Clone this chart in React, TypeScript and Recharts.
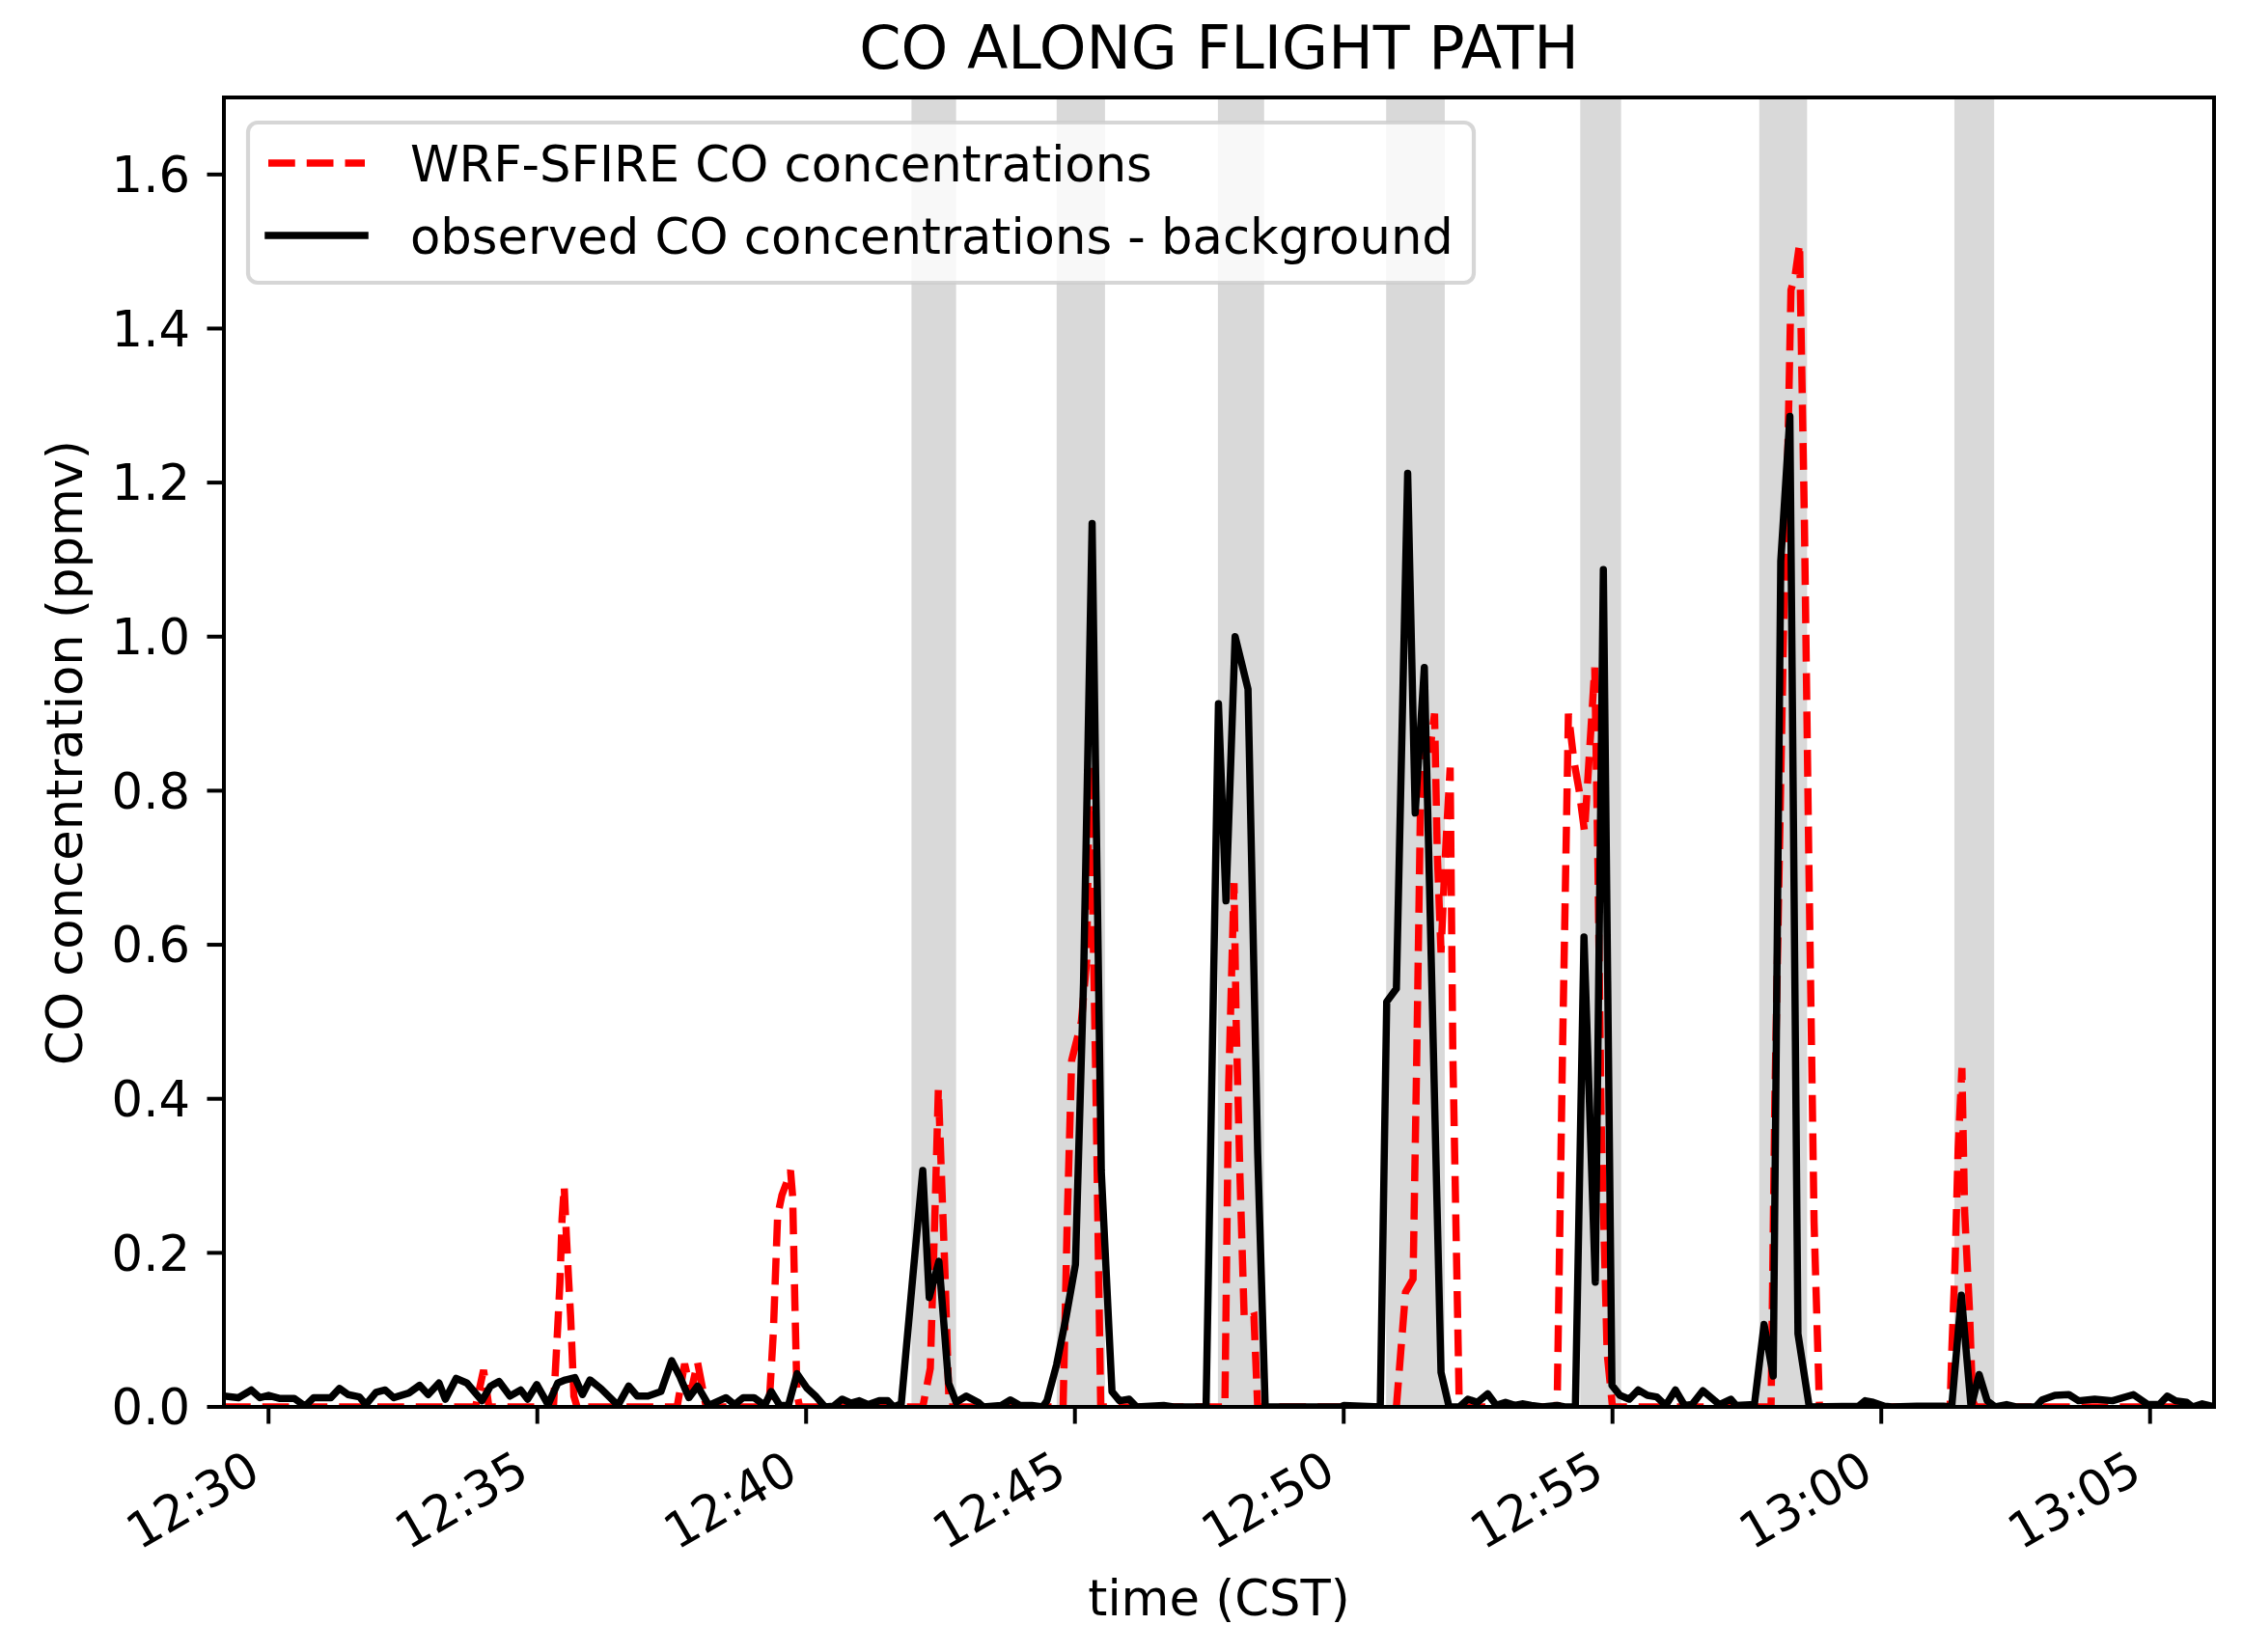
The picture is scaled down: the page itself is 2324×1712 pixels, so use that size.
import React from 'react';
import { LineChart, Line, XAxis, YAxis, ReferenceArea } from 'recharts';

const FONT = '"DejaVu Sans", sans-serif';
const FS = 51.2;

// time axis is in minutes after 12:00 CST
const obsTime = [
  29.17, 29.44, 29.68, 29.84, 30.0, 30.2, 30.48, 30.68, 30.84, 31.16, 31.32, 31.48, 31.69, 31.81,
  32.0, 32.17, 32.33, 32.61, 32.81, 32.97, 33.17, 33.29, 33.49, 33.69, 33.97, 34.13, 34.29, 34.49,
  34.69, 34.82, 34.99, 35.2, 35.38, 35.52, 35.7, 35.84, 35.98, 36.18, 36.5, 36.7, 36.86, 37.06,
  37.3, 37.5, 37.66, 37.82, 37.98, 38.19, 38.51, 38.67, 38.83, 39.03, 39.23, 39.35, 39.51, 39.67,
  39.83, 40.02, 40.19, 40.35, 40.51, 40.67, 40.83, 40.99, 41.16, 41.36, 41.52, 41.63, 41.77,
  41.99, 42.17, 42.29, 42.47, 42.65, 42.79, 42.98, 43.2, 43.3, 43.63, 43.8, 43.98, 44.2, 44.4,
  44.48, 44.66, 44.84, 45.01, 45.16, 45.32, 45.49, 45.69, 45.83, 46.01, 46.15, 46.65, 46.83,
  47.44, 47.67, 47.81, 47.98, 48.22, 48.4, 48.54, 49.95, 50.0, 50.68, 50.8, 50.98, 51.19, 51.33,
  51.5, 51.81, 51.96, 52.15, 52.31, 52.49, 52.68, 52.84, 53.01, 53.18, 53.32, 53.49, 53.7, 53.97,
  54.11, 54.31, 54.47, 54.68, 54.83, 54.99, 55.14, 55.31, 55.48, 55.65, 55.82, 55.99, 56.17,
  56.34, 56.48, 56.68, 56.99, 57.2, 57.3, 57.64, 57.82, 57.99, 58.13, 58.3, 58.45, 58.66, 59.58,
  59.7, 59.85, 60.06, 60.2, 60.66, 61.16, 61.31, 61.49, 61.67, 61.82, 61.97, 62.12, 62.33, 62.5,
  62.87, 62.99, 63.23, 63.49, 63.67, 63.97, 64.3, 64.69, 64.96, 65.17, 65.32, 65.47, 65.68,
  65.79, 65.97, 66.19,
];
const obsCO = [
  0.014, 0.012, 0.022, 0.012, 0.015, 0.011, 0.011, 0.001, 0.012, 0.012, 0.024, 0.016, 0.013, 0.003,
  0.019, 0.022, 0.012, 0.018, 0.028, 0.016, 0.031, 0.01, 0.037, 0.031, 0.008, 0.027, 0.033, 0.014,
  0.022, 0.01, 0.029, 0.003, 0.031, 0.035, 0.038, 0.016, 0.035, 0.024, 0.002, 0.027, 0.014, 0.014,
  0.02, 0.06, 0.038, 0.012, 0.027, 0.002, 0.012, 0.003, 0.012, 0.012, 0.002, 0.02, 0.002, 0.002,
  0.043, 0.024, 0.013, 0.0, 0.001, 0.01, 0.005, 0.008, 0.003, 0.008, 0.008, 0.0, 0.004,
  0.173, 0.307, 0.142, 0.189, 0.031, 0.006, 0.014, 0.006, 0.0, 0.002, 0.009, 0.002, 0.002, 0.0,
  0.008, 0.055, 0.118, 0.185, 0.55, 1.147, 0.307, 0.02, 0.008, 0.01, 0.0, 0.002, 0.0,
  0.0, 0.913, 0.657, 1.0, 0.932, 0.33, 0.0, 0.0, 0.002, 0.0, 0.526, 0.543, 1.212, 0.771,
  0.96, 0.045, 0.0, 0.0, 0.01, 0.006, 0.017, 0.002, 0.006, 0.002, 0.004, 0.002, 0.0, 0.002,
  0.0, 0.0, 0.61, 0.162, 1.087, 0.028, 0.015, 0.01, 0.022, 0.015, 0.013, 0.002, 0.022,
  0.002, 0.003, 0.021, 0.003, 0.01, 0.002, 0.003, 0.107, 0.04, 1.098, 1.286, 0.095, 0.0, 0.001,
  0.008, 0.006, 0.001, 0.0, 0.001, 0.001, 0.0, 0.145, 0.0, 0.042, 0.008, 0.0, 0.003, 0.0,
  0.0, 0.009, 0.015, 0.016, 0.008, 0.01, 0.008, 0.016, 0.003, 0.003, 0.014, 0.008, 0.006,
  0.0, 0.004, 0.0,
];

const wrfTime = [
  29.17, 33.85, 34.0, 34.1, 35.3, 35.38, 35.42, 35.46, 35.5, 35.54, 35.58, 35.62, 35.68, 35.74,
  37.6, 37.74, 37.86, 37.98, 38.14, 39.31, 39.39, 39.47, 39.55, 39.63, 39.71, 39.75, 39.79, 39.83,
  39.88, 42.17, 42.31, 42.4, 42.46, 42.58, 42.66, 44.78, 44.86, 44.94, 45.12, 45.22, 45.27, 45.33,
  45.39, 45.44, 45.48, 47.79, 47.86, 47.96, 48.0, 48.07, 48.15, 48.33, 48.4, 50.98, 51.15, 51.29,
  51.36, 51.43, 51.53, 51.6, 51.69, 51.74, 51.81, 51.88, 51.92, 51.98, 52.03, 52.15, 53.97, 54.07,
  54.18, 54.28, 54.38, 54.48, 54.55, 54.67, 54.73, 54.79, 54.9, 55.0, 57.95, 58.02, 58.1, 58.18,
  58.25, 58.32, 58.4, 58.48, 58.57, 58.65, 58.75, 58.85, 61.28, 61.31, 61.37, 61.43, 61.5, 61.55,
  61.64, 61.7, 61.75, 66.19,
];
const wrfCO = [
  0.0, 0.0, 0.048, 0.0, 0.0, 0.105, 0.16, 0.244, 0.286, 0.223, 0.168, 0.117, 0.014, 0.0,
  0.0, 0.056, 0.02, 0.058, 0.0, 0.0, 0.096, 0.248, 0.275, 0.29, 0.307, 0.273, 0.138, 0.016,
  0.0, 0.0, 0.05, 0.26, 0.413, 0.18, 0.0, 0.0, 0.25, 0.45, 0.5, 0.58, 0.834, 0.65,
  0.42, 0.18, 0.0, 0.0, 0.417, 0.68, 0.5, 0.3, 0.114, 0.118, 0.0, 0.0, 0.149, 0.166,
  0.46, 0.79, 0.877, 0.85, 0.9, 0.72, 0.59, 0.7, 0.755, 0.83, 0.46, 0.0, 0.0, 0.46,
  0.9, 0.84, 0.8, 0.747, 0.825, 0.96, 0.7, 0.37, 0.07, 0.0, 0.0, 0.4, 0.7, 1.0,
  1.2, 1.45, 1.47, 1.51, 1.15, 0.72, 0.24, 0.0, 0.0, 0.07, 0.18, 0.336, 0.44, 0.255,
  0.127, 0.008, 0.0, 0.0,
];

// shaded plume crossings
const plumeStart = [41.96, 44.66, 47.66, 50.79, 54.4, 57.73, 61.36];
const plumeEnd = [42.79, 45.56, 48.52, 51.88, 55.16, 58.62, 62.1];

const xTicks = [30, 35, 40, 45, 50, 55, 60, 65];
const yTicks = [0, 0.2, 0.4, 0.6, 0.8, 1.0, 1.2, 1.4, 1.6];
const X_MIN = 29.17;
const X_MAX = 66.19;

const obsData = obsTime.map((t, i) => ({ t, co: obsCO[i] }));
const wrfData = wrfTime.map((t, i) => ({ t, co: wrfCO[i] }));

const fmtTime = (t: number) => {
  const h = 12 + Math.floor(t / 60);
  const m = Math.round(t % 60);
  return `${h}:${String(m).padStart(2, '0')}`;
};

const TimeTick = (props: any) => {
  const { x, y, payload } = props;
  const tx = x - 6;
  const ty = y + 40;
  return (
    <text x={tx} y={ty} textAnchor="end" transform={`rotate(-30 ${tx} ${ty})`}
      fontSize={FS} fontFamily={FONT} fill="#000">
      {fmtTime(payload.value)}
    </text>
  );
};

export default function App() {
  return (
    <div style={{ position: 'absolute', left: 0, top: 0, width: 2324, height: 1712, background: '#fff' }}>
      <LineChart width={2324} height={1712} margin={{ top: 101, right: 30, bottom: 0, left: 0 }}>
        <XAxis type="number" dataKey="t" domain={[X_MIN, X_MAX]} allowDataOverflow ticks={xTicks}
          interval={0} tick={<TimeTick />} tickSize={17.5} tickMargin={17.5} height={254}
          axisLine={{ stroke: '#000', strokeWidth: 4 }} tickLine={{ stroke: '#000', strokeWidth: 4 }} />
        <YAxis type="number" domain={[0, 1.7]} allowDataOverflow ticks={yTicks} interval={0}
          tickFormatter={(v: number) => v.toFixed(1)} width={232} tickSize={17.5} tickMargin={17.5}
          tick={{ fontSize: FS, fill: '#000', fontFamily: FONT }}
          axisLine={{ stroke: '#000', strokeWidth: 4 }} tickLine={{ stroke: '#000', strokeWidth: 4 }} />
        {plumeStart.map((s, i) => (
          <ReferenceArea key={i} x1={s} x2={plumeEnd[i]} y1={0} y2={1.7}
            fill="#d9d9d9" fillOpacity={1} stroke="none" />
        ))}
        <Line data={wrfData} dataKey="co" type="linear" stroke="#ff0000" strokeWidth={7.5}
          strokeDasharray="27.75 12" dot={false} activeDot={false} isAnimationActive={false} />
        <Line data={obsData} dataKey="co" type="linear" stroke="#000" strokeWidth={7.5}
          strokeLinejoin="round" dot={false} activeDot={false} isAnimationActive={false} />
        <ReferenceArea x1={X_MIN} x2={X_MAX} y1={0} y2={1.7} fill="none" stroke="#000" strokeWidth={4} />
      </LineChart>

      <svg width={2324} height={1712} style={{ position: 'absolute', left: 0, top: 0, pointerEvents: 'none' }}
        fontFamily={FONT}>
        <text x={1263} y={71} textAnchor="middle" fontSize={62} fill="#000">CO ALONG FLIGHT PATH</text>
        <text x={1263} y={1674} textAnchor="middle" fontSize={FS} fill="#000">time (CST)</text>
        <text x={85} y={780} textAnchor="middle" fontSize={FS} fill="#000"
          transform="rotate(-90 85 780)">CO concentration (ppmv)</text>

        <rect x={257} y={127} width={1270} height={166} rx={10} ry={10}
          fill="#fff" fillOpacity={0.8} stroke="#cccccc" strokeOpacity={0.8} strokeWidth={4.2} />
        <line x1={278} y1={169} x2={378} y2={169} stroke="#ff0000" strokeWidth={7.5} strokeDasharray="27.75 12" />
        <text x={425} y={188} fontSize={FS} fill="#000">WRF-SFIRE CO concentrations</text>
        <line x1={278} y1={244} x2={378} y2={244} stroke="#000" strokeWidth={7.5} strokeLinecap="square" />
        <text x={425} y={263} fontSize={FS} fill="#000">observed CO concentrations - background</text>
      </svg>
    </div>
  );
}
